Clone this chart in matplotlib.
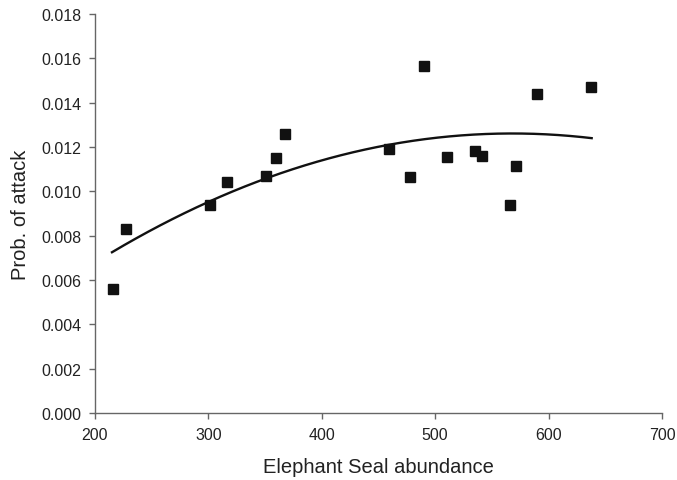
import numpy as np
import matplotlib
matplotlib.use("Agg")
import matplotlib.pyplot as plt

plt.rcParams['font.family'] = ['Liberation Sans', 'DejaVu Sans']

# Data
seal_abundance = [216, 227, 301, 316, 351, 360, 368, 459, 478, 490, 510, 535, 541, 566, 571, 590, 637]
prob_attack = [0.0056, 0.0083, 0.0094, 0.0104, 0.0107, 0.0115, 0.0126, 0.0119, 0.01066, 0.01565,
               0.01156, 0.0118, 0.01158, 0.00937, 0.01114, 0.0144, 0.01469]

# Quadratic trend line: y = a*(x - x_peak)^2 + y_peak
trend_a = -4.30e-8
trend_peak_x = 568
trend_peak_y = 0.01261
trend_range = (215, 638)

x_ticks = [200, 300, 400, 500, 600, 700]
y_ticks = [0.000, 0.002, 0.004, 0.006, 0.008, 0.010, 0.012, 0.014, 0.016, 0.018]

fig = plt.figure(figsize=(6.77, 4.81), dpi=100)
ax = fig.add_axes([0.1403, 0.1393, 0.8375, 0.8295])

xs = np.linspace(trend_range[0], trend_range[1], 200)
ys = trend_a * (xs - trend_peak_x) ** 2 + trend_peak_y
ax.plot(xs, ys, color='#111111', lw=1.7, zorder=2)
ax.plot(seal_abundance, prob_attack, 's', color='#111111', markersize=6.5, zorder=3)

ax.set_xlim(200, 700)
ax.set_ylim(0, 0.018)
ax.set_xticks(x_ticks)
ax.set_yticks(y_ticks)
ax.set_yticklabels([f"{v:.3f}" for v in y_ticks])
ax.set_xticklabels([str(v) for v in x_ticks])

for s in ['top', 'right']:
    ax.spines[s].set_visible(False)
for s in ['left', 'bottom']:
    ax.spines[s].set_color('#666666')
    ax.spines[s].set_linewidth(1.0)
ax.tick_params(axis='both', direction='out', length=4, width=1.0, color='#666666',
               labelsize=11.5, labelcolor='#222222', pad=6)

ax.set_xlabel('Elephant Seal abundance', fontsize=14.5, color='#222222', labelpad=11)
ax.set_ylabel('Prob. of attack', fontsize=14.5, color='#222222', labelpad=8)

fig.savefig('out.png', dpi=100)
